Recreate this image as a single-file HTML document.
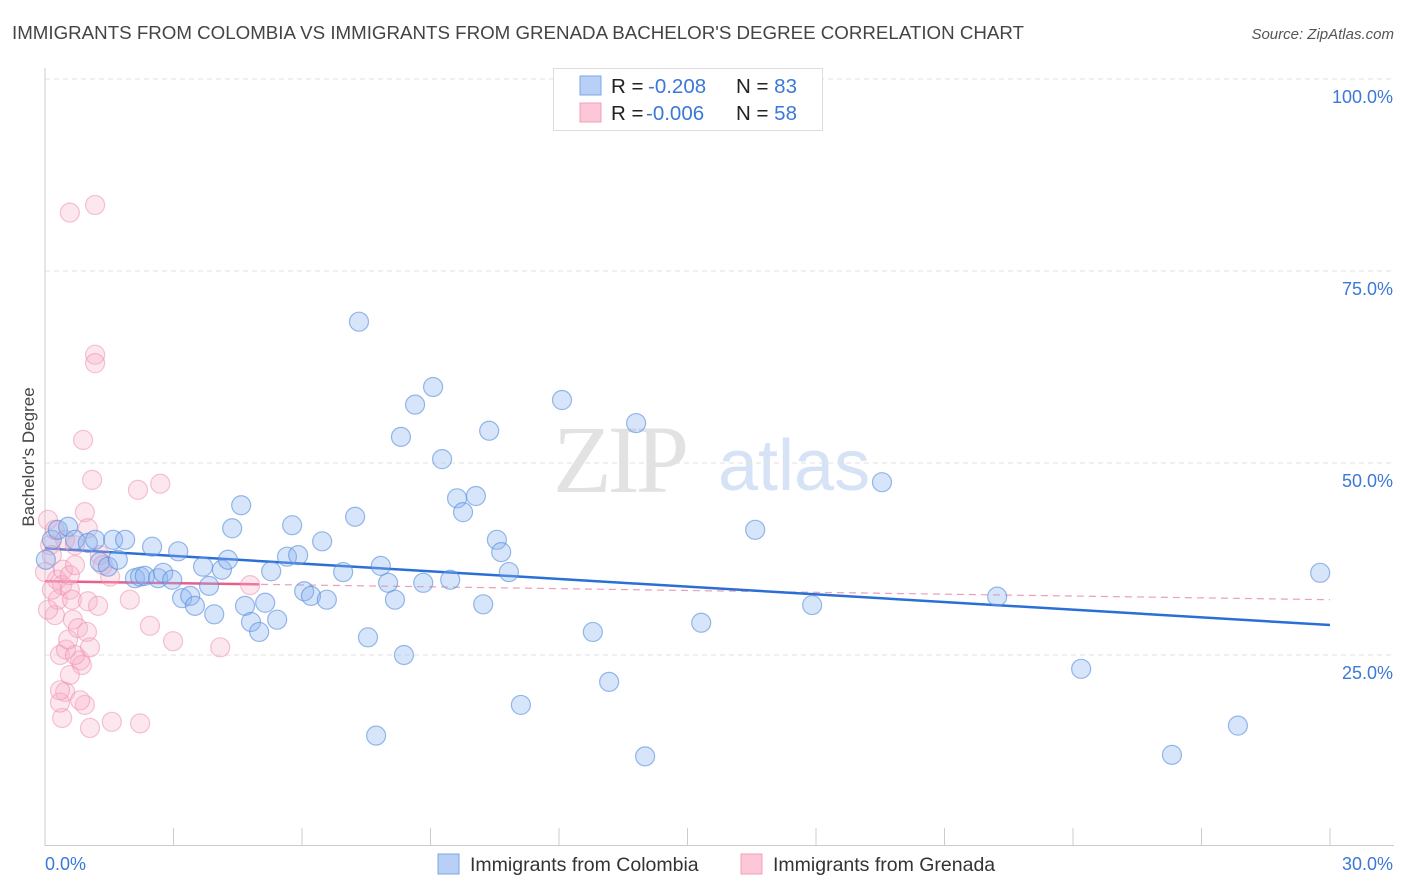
<!DOCTYPE html>
<html><head><meta charset="utf-8"><style>
body{margin:0;background:#fff;font-family:"Liberation Sans",sans-serif;}
</style></head><body>
<svg id="chart" width="1406" height="892" xmlns="http://www.w3.org/2000/svg" style="display:block">
<text x="12" y="39" font-size="18.5" fill="#444" textLength="1012" lengthAdjust="spacingAndGlyphs">IMMIGRANTS FROM COLOMBIA VS IMMIGRANTS FROM GRENADA BACHELOR'S DEGREE CORRELATION CHART</text>
<text x="1394" y="39" font-size="15" fill="#555" text-anchor="end" font-style="italic">Source: ZipAtlas.com</text>
<g>
<text x="553" y="492" font-size="96" font-family="Liberation Serif,serif" fill="#e2e2e2" letter-spacing="-4">ZIP</text>
<text x="718" y="490" font-size="72" fill="#d6e2f5">atlas</text>
</g>
<g id="grid"></g>
<g id="axes"></g>
<g id="lines"></g>
<g id="pts"></g>
<text transform="translate(34,457) rotate(-90)" font-size="17" fill="#444" text-anchor="middle">Bachelor's Degree</text>
<g>
<rect x="553.5" y="68.5" width="269" height="62" fill="#fff" stroke="#ddd"/>
<rect x="580" y="76" width="21" height="19" fill="#b8d0f5" stroke="#7ea6e6"/>
<rect x="580" y="103" width="21" height="19" fill="#fcc8d8" stroke="#f0a0b8"/>
<text x="611" y="93" font-size="20.5" fill="#222">R = <tspan x="648" fill="#3b78d8">-0.208</tspan><tspan x="736">N = </tspan><tspan fill="#3b78d8">83</tspan></text>
<text x="611" y="120" font-size="20.5" fill="#222">R = <tspan x="646" fill="#3b78d8">-0.006</tspan><tspan x="736">N = </tspan><tspan fill="#3b78d8">58</tspan></text>
</g>
<g>
<rect x="438" y="854" width="21" height="20" fill="#b8d0f5" stroke="#7ea6e6"/>
<text x="470" y="871" font-size="19.5" fill="#333">Immigrants from Colombia</text>
<rect x="741" y="854" width="21" height="20" fill="#fcc8d8" stroke="#f0a0b8"/>
<text x="773" y="871" font-size="19.5" fill="#333">Immigrants from Grenada</text>
</g>
</svg>
<script>
const blueX=[0.16,0.30,0.54,0.70,1.00,1.17,1.28,1.47,1.59,1.87,1.70,2.10,2.22,2.33,2.50,2.64,2.76,2.97,3.11,3.20,3.39,3.50,3.69,3.83,3.95,4.13,4.27,4.37,4.58,4.67,4.81,5.00,5.14,5.28,5.42,5.65,5.77,5.91,6.05,6.21,6.47,6.58,6.96,7.24,7.33,7.54,7.84,7.73,8.01,8.17,8.31,8.38,8.64,8.83,9.06,9.27,9.46,9.62,9.76,10.06,10.23,10.37,10.55,10.65,10.83,11.11,12.07,12.79,13.17,13.80,14.01,15.32,16.58,17.91,19.54,22.23,24.19,26.31,27.85,29.77,0.02];
const blueY=[40.0,41.3,41.7,40.0,39.6,40.0,37.1,36.5,40.0,40.0,37.4,35.0,35.2,35.3,39.1,35.0,35.7,34.8,38.5,32.4,32.7,31.4,36.5,34.0,30.3,36.1,37.4,41.5,44.5,31.4,29.3,28.0,31.8,35.9,29.6,37.8,41.9,38.0,33.3,32.7,39.8,32.2,35.8,43.0,68.4,27.3,36.6,14.5,34.4,32.2,53.4,25.0,57.6,34.4,59.9,50.5,34.8,45.4,43.6,45.7,31.6,54.2,40.0,38.4,35.8,18.5,58.2,28.0,21.5,55.2,11.8,29.2,41.3,31.5,47.5,32.6,23.2,12.0,15.8,35.7,37.4];
const pinkX=[0.07,0.12,0.16,0.23,0.28,0.23,0.30,0.35,0.40,0.42,0.47,0.49,0.54,0.58,0.63,0.58,0.70,0.65,0.77,0.82,0.86,0.89,0.93,0.98,1.00,1.05,1.10,1.00,1.17,0.58,1.17,1.17,1.24,1.28,1.35,1.52,1.56,1.98,2.17,2.22,2.45,2.69,2.99,4.09,4.79,0.40,0.47,0.35,0.58,1.05,0.93,0.70,0.00,0.07,0.16,0.70,0.82,0.35];
const pinkY=[42.6,39.3,38.0,41.3,34.8,30.2,32.2,25.0,34.1,36.1,40.0,25.7,27.0,33.5,32.2,35.4,36.7,29.6,28.5,24.3,23.7,53.0,43.6,28.0,41.5,26.0,47.8,32.0,83.6,82.6,64.1,63.0,31.4,38.0,36.7,35.2,16.3,32.2,46.5,16.1,28.8,47.3,26.8,26.0,34.1,16.8,20.2,18.8,22.4,15.5,18.5,25.0,35.8,30.9,33.5,39.3,19.1,20.4];
const blueTrend=[38.9,28.9];
const pinkTrend=[34.6,32.2];
const pinkSolidEnd=5.0;
const yTicks=[25,50,75,100];
const xTickLabels=["0.0%","30.0%"];
const X0=45,X1=1330,Y0=847,Y100=79;
const sx=v=>X0+(X1-X0)*v/30;
const sy=v=>Y0-(Y0-Y100)*v/100;
const NS="http://www.w3.org/2000/svg";
function mk(parent,tag,attrs){const e=document.createElementNS(NS,tag);for(const k in attrs)e.setAttribute(k,attrs[k]);document.getElementById(parent).appendChild(e);return e;}
yTicks.forEach(t=>{
 const l=mk('grid','line',{x1:45,x2:1394,y1:sy(t),y2:sy(t),stroke:'#e2e2e2','stroke-dasharray':'5,4'});
 
 
 const tx=mk('grid','text',{x:1393,y:sy(t)+24,'font-size':18,fill:'#3b78d8','text-anchor':'end'});
 tx.textContent=t.toFixed(1)+'%';
 
 
});
mk('axes','line',{x1:45,x2:45,y1:68,y2:846,stroke:'#ccc'});
mk('axes','line',{x1:45,x2:1394,y1:845.5,y2:845.5,stroke:'#ccc'});
for(let i=0;i<=10;i++){const x=sx(i*3);const t=mk('axes','line',{x1:x,x2:x,y1:828,y2:846,stroke:'#ccc'});
 
 }
const xl0=mk('axes','text',{x:45,y:870,'font-size':18,fill:'#3b78d8'});xl0.textContent=xTickLabels[0];


const xl1=mk('axes','text',{x:1393,y:870,'font-size':18,fill:'#3b78d8','text-anchor':'end'});xl1.textContent=xTickLabels[1];


function drawPts(xs,ys,fill,stroke,name){xs.forEach((x,i)=>{const c=mk('pts','circle',{cx:sx(x),cy:sy(ys[i]),r:9.5,fill:fill,stroke:stroke,'stroke-width':1.2});
 
 });}
drawPts(pinkX,pinkY,'rgba(248,175,198,0.3)','rgba(238,145,175,0.55)','grenada-point');
drawPts(blueX,blueY,'rgba(140,180,240,0.35)','rgba(85,140,220,0.6)','colombia-point');
const pd=mk('lines','line',{x1:sx(0),y1:sy(pinkTrend[0]),x2:sx(30),y2:sy(pinkTrend[1]),stroke:'#eaa0b8','stroke-width':1.2,'stroke-dasharray':'7,5'});


const ps=mk('lines','line',{x1:sx(0),y1:sy(pinkTrend[0]),x2:sx(pinkSolidEnd),y2:sy(pinkTrend[0]+(pinkTrend[1]-pinkTrend[0])*pinkSolidEnd/30),stroke:'#e8608a','stroke-width':2.5});


const bl=mk('lines','line',{x1:sx(0),y1:sy(blueTrend[0]),x2:sx(30),y2:sy(blueTrend[1]),stroke:'#2a6fd6','stroke-width':2.5});


</script>
</body></html>
